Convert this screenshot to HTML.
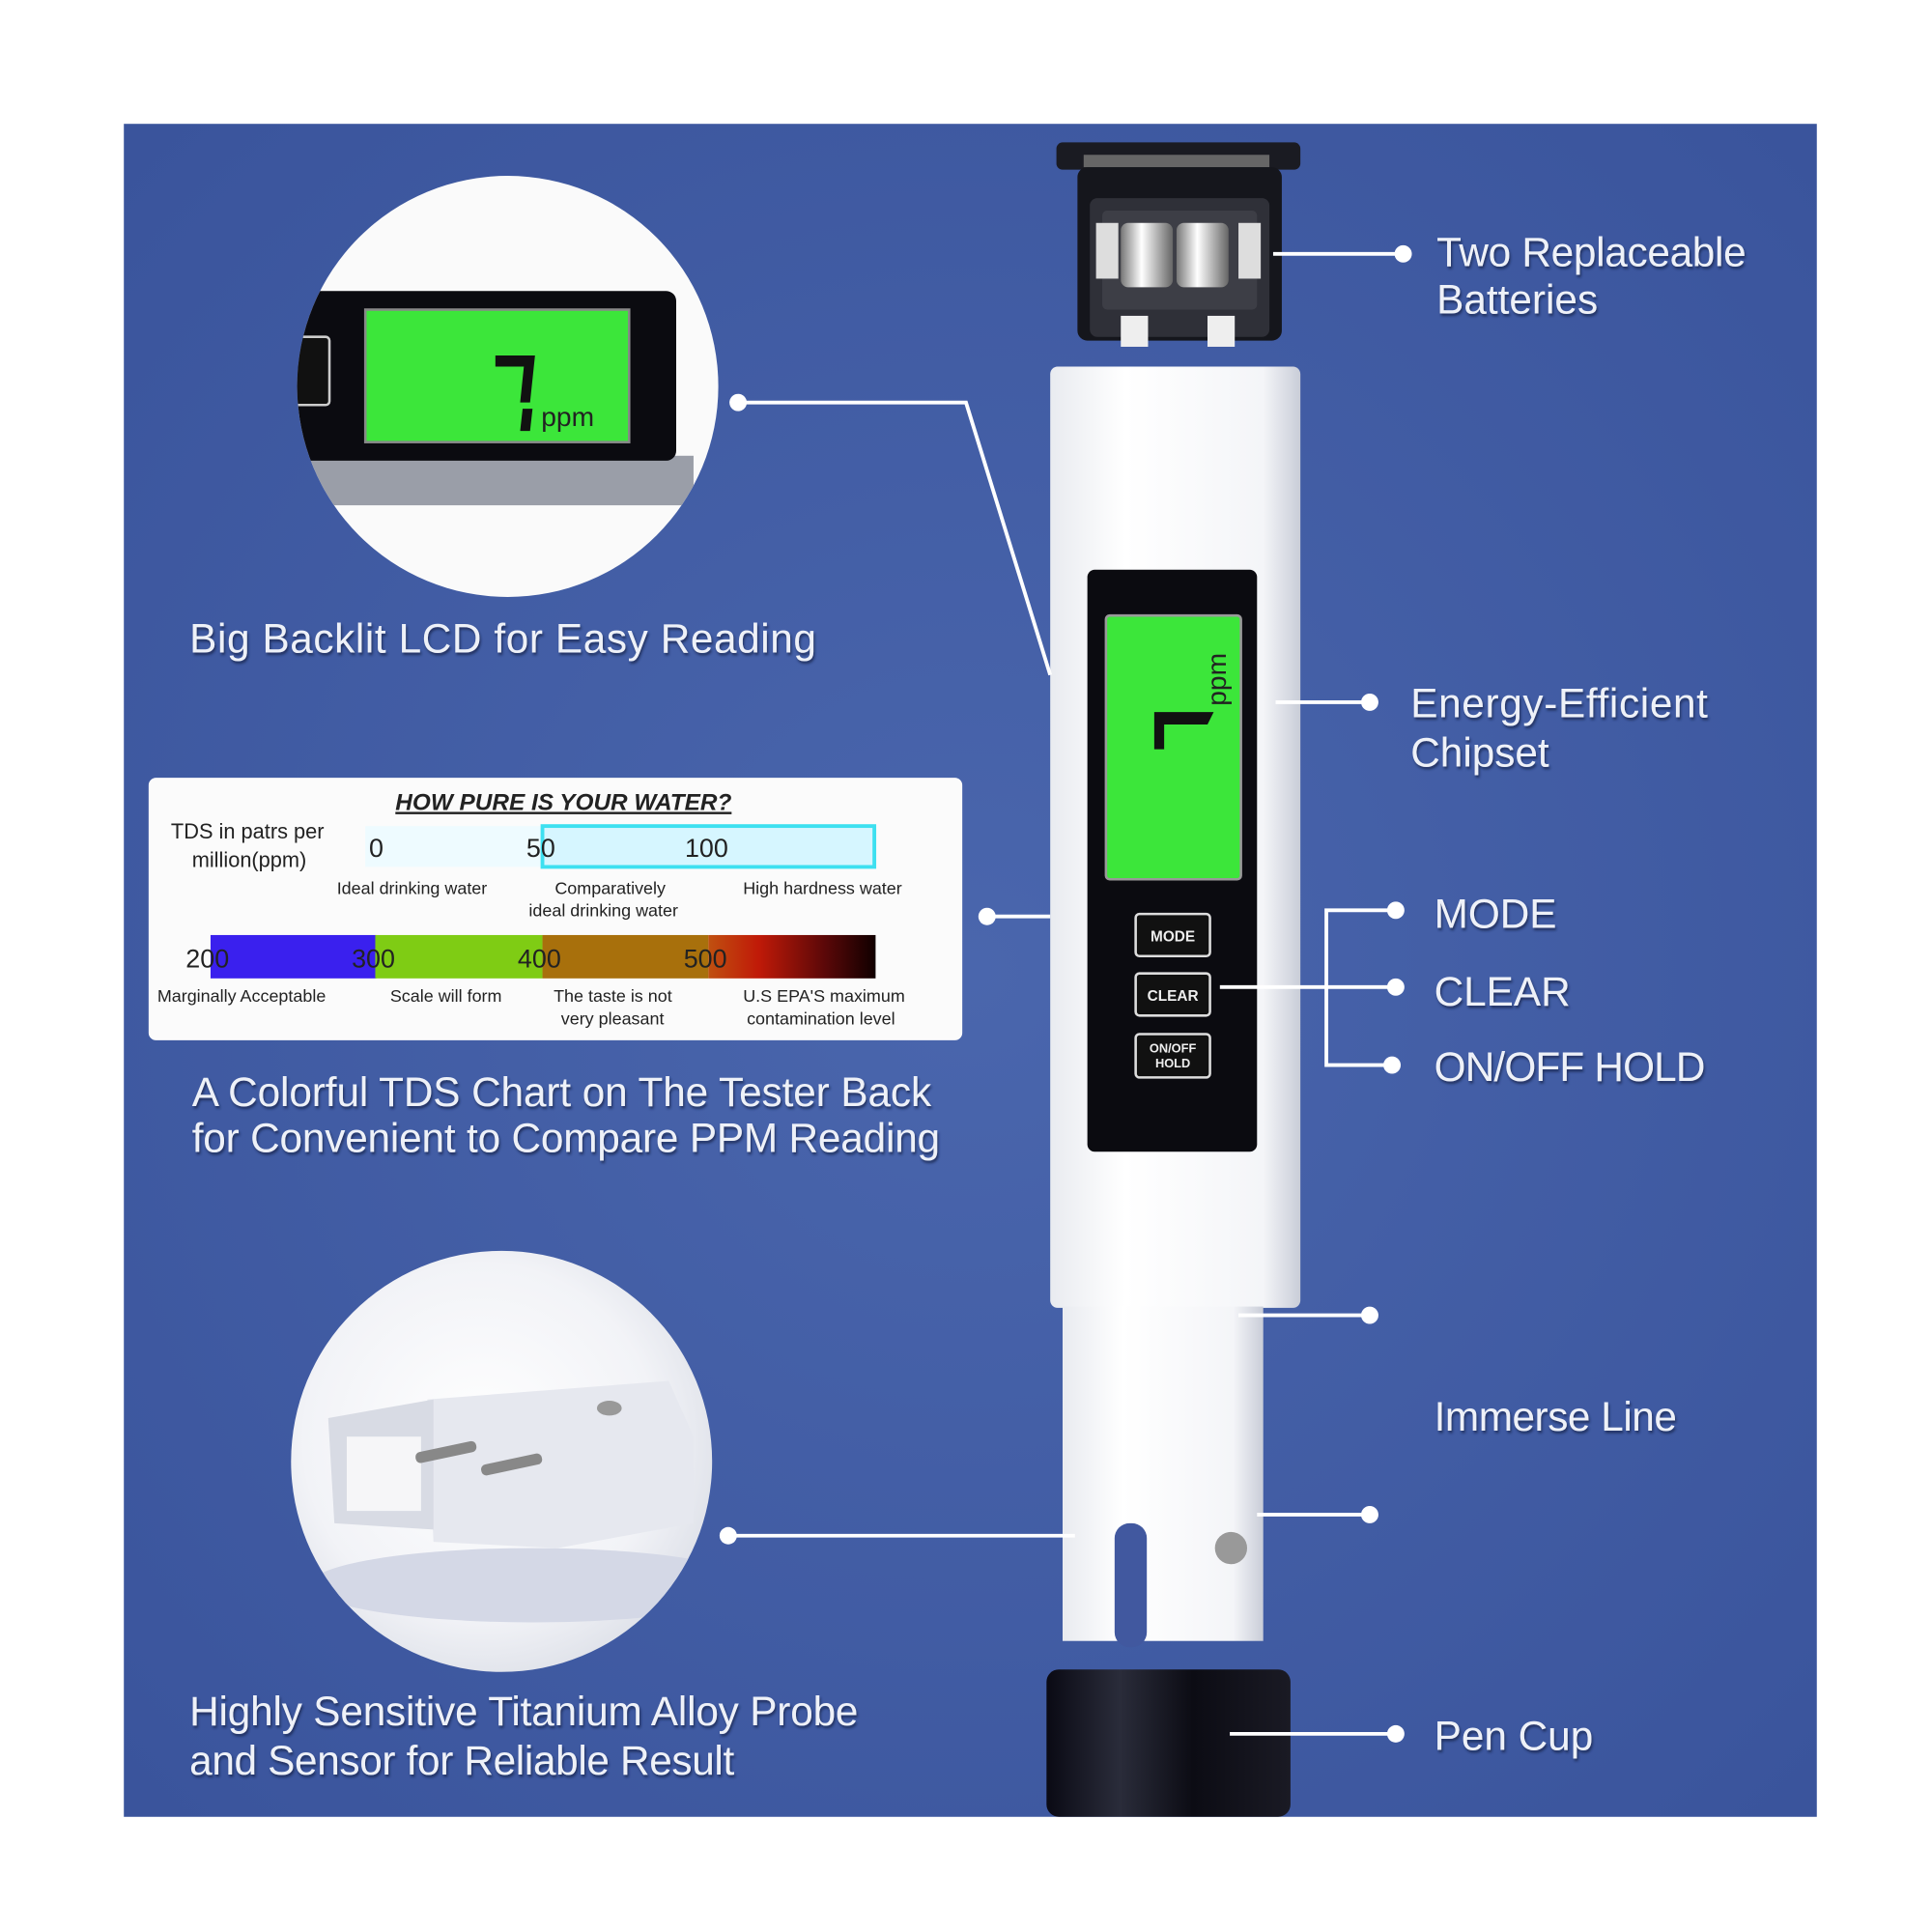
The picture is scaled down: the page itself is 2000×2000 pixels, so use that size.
<!DOCTYPE html>
<html><head><meta charset="utf-8"><style>
html,body{margin:0;padding:0;background:#fff;width:2000px;height:2000px;overflow:hidden}
svg{display:block}
.t{font-family:"Liberation Sans",sans-serif;fill:#eef1f8;font-size:33px}
.c{font-family:"Liberation Sans",sans-serif;fill:#222}
</style></head><body>
<svg width="2000" height="2000" viewBox="0 0 1560 1560" xmlns="http://www.w3.org/2000/svg">
<defs>
<radialGradient id="bg" cx="50%" cy="50%" r="70%"><stop offset="0" stop-color="#4a66ad"/><stop offset="1" stop-color="#3a549c"/></radialGradient>
<linearGradient id="pen" x1="0" x2="1"><stop offset="0" stop-color="#e9ebf0"/><stop offset="0.3" stop-color="#ffffff"/><stop offset="0.85" stop-color="#f4f5f8"/><stop offset="1" stop-color="#c9cdd8"/></linearGradient>
<linearGradient id="cup" x1="0" x2="1"><stop offset="0" stop-color="#0a0a14"/><stop offset="0.3" stop-color="#2a2c3a"/><stop offset="0.6" stop-color="#0c0c14"/><stop offset="1" stop-color="#1a1a24"/></linearGradient>
<linearGradient id="heat" x1="0" x2="1"><stop offset="0" stop-color="#c05010"/><stop offset="0.3" stop-color="#c01a08"/><stop offset="0.7" stop-color="#5a0808"/><stop offset="1" stop-color="#100000"/></linearGradient>
<linearGradient id="bat" x1="0" x2="1"><stop offset="0" stop-color="#777"/><stop offset="0.4" stop-color="#fff"/><stop offset="1" stop-color="#666"/></linearGradient>
<radialGradient id="c2" cx="45%" cy="45%" r="60%"><stop offset="0" stop-color="#ffffff"/><stop offset="0.7" stop-color="#f2f3f7"/><stop offset="1" stop-color="#dde0e8"/></radialGradient>
<filter id="sh"><feDropShadow dx="1" dy="2" stdDeviation="1" flood-color="#1a2550" flood-opacity="0.8"/></filter>
</defs>
<rect x="100" y="100" width="1367" height="1367" fill="url(#bg)"/>

<!-- battery cap -->
<rect x="853" y="115" width="197" height="22" rx="5" fill="#1a1b22"/>
<rect x="875" y="125" width="150" height="10" fill="#666"/>
<rect x="870" y="135" width="165" height="140" rx="8" fill="#15161c"/>
<rect x="880" y="160" width="145" height="112" rx="6" fill="#2f3038"/>
<rect x="890" y="170" width="125" height="80" rx="4" fill="#3d3e46"/>
<rect x="905" y="180" width="42" height="52" rx="6" fill="url(#bat)"/>
<rect x="950" y="180" width="42" height="52" rx="6" fill="url(#bat)"/>
<rect x="885" y="180" width="18" height="45" fill="#ddd"/>
<rect x="1000" y="180" width="18" height="45" fill="#ddd"/>
<rect x="905" y="255" width="22" height="25" fill="#eee"/>
<rect x="975" y="255" width="22" height="25" fill="#eee"/>

<!-- pen body -->
<rect x="848" y="296" width="202" height="760" rx="6" fill="url(#pen)"/>
<rect x="858" y="1055" width="162" height="270" fill="url(#pen)"/>
<rect x="900" y="1230" width="26" height="100" rx="12" fill="#41589f"/>
<circle cx="994" cy="1250" r="13" fill="#999"/>
<!-- LCD -->
<rect x="878" y="460" width="137" height="470" rx="6" fill="#0b0b10"/>
<rect x="893" y="497" width="109" height="213" rx="3" fill="#3ce63a" stroke="#999" stroke-width="2"/>
<text x="0" y="0" transform="translate(990,570) rotate(-90)" class="c" font-size="22" fill="#111">ppm</text>
<path d="M932 605 L932 575 L980 575 L975 585 L940 585 L940 605Z" fill="#111"/>
<g fill="#111" stroke="#ddd" stroke-width="2">
<rect x="917" y="738" width="60" height="34" rx="3"/>
<rect x="917" y="786" width="60" height="34" rx="3"/>
<rect x="917" y="835" width="60" height="35" rx="3"/>
</g>
<g class="c" fill="#eee" font-size="12" font-weight="bold" text-anchor="middle">
<text x="947" y="760" fill="#eee">MODE</text>
<text x="947" y="808" fill="#eee">CLEAR</text>
<text x="947" y="850" fill="#eee" font-size="10">ON/OFF</text>
<text x="947" y="862" fill="#eee" font-size="10">HOLD</text>
</g>
<!-- pen cup -->
<rect x="845" y="1348" width="197" height="119" rx="10" fill="url(#cup)"/>

<!-- circle 1 -->
<circle cx="410" cy="312" r="170" fill="#fafafa"/>
<clipPath id="cl1"><circle cx="410" cy="312" r="170"/></clipPath>
<g clip-path="url(#cl1)">
<rect x="230" y="368" width="330" height="40" fill="#9a9ea8"/>
<rect x="232" y="235" width="314" height="137" rx="8" fill="#0b0b10"/>
<rect x="295" y="250" width="213" height="107" fill="#3ce63a" stroke="#888" stroke-width="2"/>
<path d="M400 287 L432 287 L428 325 L420 325 L423 296 L400 296Z" fill="#111"/>
<path d="M422 330 L430 330 L428 348 L420 348Z" fill="#111"/>
<text x="437" y="344" class="c" font-size="22" fill="#111">ppm</text>
<rect x="238" y="272" width="28" height="55" rx="3" fill="#111" stroke="#ccc" stroke-width="2"/>
</g>

<!-- circle 2 -->
<circle cx="405" cy="1180" r="170" fill="url(#c2)"/>
<clipPath id="cl2"><circle cx="405" cy="1180" r="170"/></clipPath>
<g clip-path="url(#cl2)">
<ellipse cx="430" cy="1280" rx="180" ry="30" fill="#d4d8e6"/>
<path d="M345 1130 L540 1115 L560 1160 L560 1230 L450 1250 L350 1245Z" fill="#e6e8ef"/>
<path d="M265 1145 L350 1130 L350 1235 L270 1230Z" fill="#d8dbe4"/>
<rect x="280" y="1160" width="60" height="60" fill="#f6f6f8"/>
<rect x="335" y="1168" width="50" height="9" rx="4" fill="#888" transform="rotate(-12 360 1172)"/>
<rect x="388" y="1178" width="50" height="9" rx="4" fill="#888" transform="rotate(-12 413 1182)"/>
<ellipse cx="492" cy="1137" rx="10" ry="6" fill="#999"/>
</g>

<!-- chart card -->
<rect x="120" y="628" width="657" height="212" rx="6" fill="#fbfbfb"/>
<text x="455" y="654" class="c" font-size="19" font-style="italic" font-weight="bold" text-anchor="middle" text-decoration="underline" fill="#333">HOW PURE IS YOUR WATER?</text>
<rect x="295" y="667" width="143" height="33" fill="#eefbff"/>
<rect x="438" y="667" width="268" height="33" fill="#d6f6ff" stroke="#3de0f0" stroke-width="3"/>
<g class="c" font-size="17" fill="#333">
<text x="138" y="677">TDS in patrs per</text>
<text x="155" y="700">million(ppm)</text>
</g>
<g class="c" font-size="21" fill="#225">
<text x="298" y="692">0</text><text x="425" y="692">50</text><text x="553" y="692">100</text>
</g>
<g class="c" font-size="14" fill="#444">
<text x="272" y="722">Ideal drinking water</text>
<text x="448" y="722">Comparatively</text>
<text x="427" y="740">ideal drinking water</text>
<text x="600" y="722">High hardness water</text>
</g>
<rect x="170" y="755" width="134" height="35" fill="#3a20ee"/>
<rect x="303" y="755" width="135" height="35" fill="#7fcc14"/>
<rect x="438" y="755" width="134" height="35" fill="#a8700c"/>
<rect x="572" y="755" width="135" height="35" fill="url(#heat)"/>
<g class="c" font-size="21" fill="#222">
<text x="150" y="781">200</text><text x="284" y="781">300</text><text x="418" y="781">400</text><text x="552" y="781">500</text>
</g>
<g class="c" font-size="14" fill="#444">
<text x="127" y="809">Marginally Acceptable</text>
<text x="315" y="809">Scale will form</text>
<text x="447" y="809">The taste is not</text>
<text x="453" y="827">very pleasant</text>
<text x="600" y="809">U.S EPA'S maximum</text>
<text x="603" y="827">contamination level</text>
</g>

<!-- connectors -->
<g stroke="#fff" stroke-width="3" fill="none">
<path d="M1028 205 H1133"/>
<path d="M596 325 H780 L848 545"/>
<path d="M1030 567 H1106"/>
<path d="M1127 735 H1071 V860 H1127 M985 797 H1127"/>
<path d="M797 740 H848"/>
<path d="M1000 1062 H1106 M1015 1223 H1106"/>
<path d="M588 1240 H868"/>
<path d="M993 1400 H1127"/>
</g>
<g fill="#fff">
<circle cx="1133" cy="205" r="7"/><circle cx="596" cy="325" r="7"/><circle cx="1106" cy="567" r="7"/>
<circle cx="1127" cy="735" r="7"/><circle cx="1127" cy="797" r="7"/><circle cx="1124" cy="860" r="7"/>
<circle cx="797" cy="740" r="7"/><circle cx="1106" cy="1062" r="7"/><circle cx="1106" cy="1223" r="7"/>
<circle cx="588" cy="1240" r="7"/><circle cx="1127" cy="1400" r="7"/>
</g>

<!-- labels -->
<g class="t" filter="url(#sh)">
<text x="1160" y="215" textLength="250">Two Replaceable</text>
<text x="1160" y="253">Batteries</text>
<text x="153" y="527" textLength="506">Big Backlit LCD for Easy Reading</text>
<text x="1139" y="579" textLength="240">Energy-Efficient</text>
<text x="1139" y="619">Chipset</text>
<text x="1158" y="749">MODE</text>
<text x="1158" y="812">CLEAR</text>
<text x="1158" y="873" textLength="219">ON/OFF HOLD</text>
<text x="155" y="893" textLength="597">A Colorful TDS Chart on The Tester Back</text>
<text x="155" y="930" textLength="604">for Convenient to Compare PPM Reading</text>
<text x="1158" y="1155" textLength="196">Immerse Line</text>
<text x="153" y="1393" textLength="540">Highly Sensitive Titanium Alloy Probe</text>
<text x="153" y="1433" textLength="440">and Sensor for Reliable Result</text>
<text x="1158" y="1413">Pen Cup</text>
</g>
</svg>
</body></html>
